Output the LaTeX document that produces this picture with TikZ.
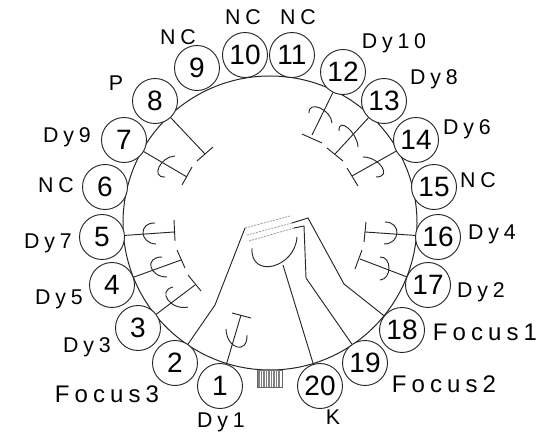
\documentclass[tikz,border=0pt]{standalone}
\usepackage{fontspec}
\setmainfont{Liberation Sans}
\usetikzlibrary{calc}
\tikzset{
  ln/.style={line width=0.7pt,draw=black!85},
  rimc/.style={circle,draw=black!85,line width=0.75pt,minimum size=220.5pt,inner sep=0pt},
  pin/.style={circle,draw=black!85,fill=white,line width=0.7pt,text=black,minimum size=33.75pt,inner sep=0pt,font=\fontsize{21}{21}\selectfont},
  lab/.style={inner sep=0pt,anchor=base,yshift=-5.7pt,font=\fontsize{16}{17}\selectfont,execute at begin node={\spaceskip=3.6pt\relax}},
  biglab/.style={inner sep=0pt,anchor=base,yshift=-6.4pt,font=\fontsize{18}{19}\selectfont,execute at begin node={\spaceskip=3.8pt\relax}},
  dashg/.style={line width=0.5pt,draw=black!45,dash pattern=on 1.6pt off 0.8pt},
}
\newcommand{\cupmark}[3]{\draw[ln] (#1) .. controls ($(#1)+1.3333*(#2)-0.6667*(#1)-0.6667*(#3)$) and ($(#3)+1.3333*(#2)-0.6667*(#1)-0.6667*(#3)$) .. (#3);}
\newcommand{\dynode}[7]{%
  \coordinate (t#1) at (#2);
  \coordinate (ba#1) at (#3);
  \coordinate (bb#1) at (#4);
  \coordinate (ca#1) at (#5);
  \coordinate (cm#1) at (#6);
  \coordinate (cb#1) at (#7);
  \draw[ln] (p#1) -- (t#1);
  \draw[ln] (ba#1) -- (bb#1);
  \cupmark{ca#1}{cm#1}{cb#1}}
\begin{document}
\begin{tikzpicture}[x=0.75pt,y=-0.75pt]
\useasboundingbox (0,0) rectangle (559,434);
\node[rimc] (rim) at (270,223) {};
\foreach \n/\x/\y in {1/220/386,2/175/363,3/138/328,4/112/285,5/102/237,6/105/187,7/124/140,8/155/101,9/197/68,10/245/55,11/292/55,12/343/72,13/384/101,14/416/140,15/434/187,16/438/237,17/428/285,18/402/330,19/365/363,20/320/386}
  \node[pin] (p\n) at (\x,\y) {\n};
\dynode{1}{241,315}{232,313}{251,318}{226,329}{237,347}{247,335}
\dynode{3}{195,285}{188,275}{201,291}{173,287}{168,300}{188,307}
\dynode{4}{181,260}{177,250}{185,268}{162,257}{151,267}{167,277}
\dynode{5}{174,232}{174,220}{175,241}{155,223}{143,233}{156,244}
\dynode{7}{187,177}{182,185}{192,167}{175,156}{159,167}{165,177}
\dynode{12}{312,135}{302,134}{322,143}{309,113}{320,108}{332,123}
\dynode{13}{335,154}{327,148}{343,161}{339,131}{348,128}{358,147}
\dynode{14}{352,176}{347,168}{358,186}{363,157}{382,167}{376,177}
\dynode{16}{365,232}{366,222}{364,242}{385,222}{397,233}{384,244}
\dynode{17}{360,259}{362,250}{355,269}{380,257}{389,268}{380,280}
\coordinate (t8) at (205,154);
\coordinate (ba8) at (197,161);
\coordinate (bb8) at (213,147);
\draw[ln] (p8) -- (t8);
\draw[ln] (ba8) -- (bb8);
\coordinate (f2a) at (215,305);
\coordinate (f2b) at (245,228);
\coordinate (f2c) at (290,216);
\draw[ln] (p2) -- (f2a) -- (f2b);
\draw[dashg] (f2b) -- (f2c);
\coordinate (f18a) at (344,284);
\coordinate (f18b) at (308,218);
\coordinate (f18c) at (292,223);
\coordinate (f18d) at (247,235);
\draw[ln] (p18) -- (f18a) -- (f18b) -- (f18c);
\draw[dashg] (f18c) -- (f18d);
\coordinate (f19a) at (306,278);
\coordinate (f19b) at (304,226);
\coordinate (f19c) at (294,228);
\coordinate (f19d) at (249,241);
\draw[ln] (p19) -- (f19a) -- (f19b) -- (f19c);
\draw[dashg] (f19c) -- (f19d);
\coordinate (ka) at (252,248);
\coordinate (km) at (273,266);
\coordinate (kb) at (297,237);
\coordinate (kt) at (283,265);
\cupmark{ka}{km}{kb}
\draw[ln] (p20) -- (kt);
\node[draw=black!60,line width=0.5pt,minimum width=18.75pt,minimum height=12.75pt,inner sep=0pt,anchor=north west] (grid) at (257,370) {};
\foreach \x in {259,261.5,...,281} \draw[black!50,line width=0.8pt] (\x,370) -- (\x,387);
\node[lab] (l9) at (178,37) {N C};
\node[lab] (l10) at (243,17) {N C};
\node[lab] (l11) at (298,17) {N C};
\node[lab] (l12) at (394,41) {D y 1 0};
\node[lab] (l13) at (434,77) {D y 8};
\node[lab] (l14) at (467,127) {D y 6};
\node[lab] (l15) at (478,180) {N C};
\node[lab] (l16) at (492,232) {D y 4};
\node[lab] (l17) at (481,290) {D y 2};
\node[biglab] (l18) at (485,332) {F o c u s 1};
\node[biglab] (l19) at (444,384) {F o c u s 2};
\node[biglab] (l2) at (107,394) {F o c u s 3};
\node[lab] (l1) at (221,420) {D y 1};
\node[lab] (l20) at (333,417) {K};
\node[lab] (l3) at (87,345) {D y 3};
\node[lab] (l4) at (59,297) {D y 5};
\node[lab] (l5) at (48,241) {D y 7};
\node[lab] (l6) at (56,185) {N C};
\node[lab] (l7) at (67,135) {D y 9};
\node[lab] (l8) at (116,83) {P};
\end{tikzpicture}
\end{document}
